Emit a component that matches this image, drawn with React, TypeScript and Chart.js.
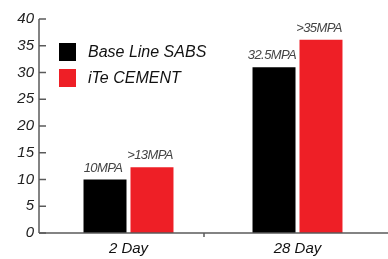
import React, { useEffect, useRef } from "react";
import { Chart, registerables } from "chart.js";

Chart.register(...registerables);

const categories = ["2 Day", "28 Day"];
const seriesNames = ["Base Line SABS", "iTe CEMENT"];
const baseLine = [10, 31];
const iteCement = [12.3, 36.1];
const baseLabels = ["10MPA", "32.5MPA"];
const iteLabels = [">13MPA", ">35MPA"];
const colors = ["#000000", "#ee1f26"];
const yTicks = [0, 5, 10, 15, 20, 25, 30, 35, 40];

const AXIS_COLOR = "#5a5a5a";

const customPlugin = {
  id: "custom",
  afterDraw(chart: any) {
    const { ctx, chartArea, scales } = chart;
    const y = scales.y;
    const x = scales.x;
    const axisX = chartArea.left - 5;
    ctx.save();
    ctx.strokeStyle = AXIS_COLOR;
    ctx.lineWidth = 1.5;
    // y axis
    ctx.beginPath();
    ctx.moveTo(axisX, y.getPixelForValue(40));
    ctx.lineTo(axisX, y.getPixelForValue(0));
    ctx.stroke();
    // y ticks (inward)
    yTicks.forEach((v) => {
      const py = y.getPixelForValue(v);
      ctx.beginPath();
      ctx.moveTo(axisX, py);
      ctx.lineTo(axisX + 7, py);
      ctx.stroke();
    });
    // x axis
    const by = y.getPixelForValue(0);
    ctx.beginPath();
    ctx.moveTo(axisX, by);
    ctx.lineTo(chart.width, by);
    ctx.stroke();
    // x middle tick
    const mid = (x.getPixelForValue(0) + x.getPixelForValue(1)) / 2 - 9;
    ctx.beginPath();
    ctx.moveTo(mid, by);
    ctx.lineTo(mid, by + 4);
    ctx.stroke();

    // value labels
    ctx.font = "italic 13px 'Liberation Sans', Arial, sans-serif";
    ctx.fillStyle = "#444444";
    ctx.textAlign = "center";
    ctx.textBaseline = "alphabetic";
    try { (ctx as any).letterSpacing = "-0.6px"; } catch (e) {}
    const labelSets = [baseLabels, iteLabels];
    chart.data.datasets.forEach((ds: any, di: number) => {
      const meta = chart.getDatasetMeta(di);
      meta.data.forEach((bar: any, i: number) => {
        ctx.fillText(labelSets[di][i], bar.x - 2, bar.y - 8);
      });
    });
    try { (ctx as any).letterSpacing = "0px"; } catch (e) {}

    // legend
    ctx.textAlign = "left";
    ctx.textBaseline = "middle";
    ctx.font = "italic 16px 'Liberation Sans', Arial, sans-serif";
    chart.data.datasets.forEach((ds: any, di: number) => {
      const top = 43 + di * 26;
      ctx.fillStyle = ds.backgroundColor;
      ctx.fillRect(59, top, 17, 18);
      ctx.fillStyle = "#111111";
      ctx.fillText(ds.label, 88, top + 10);
    });
    ctx.restore();
  },
};

export default function App() {
  const canvasRef = useRef<HTMLCanvasElement | null>(null);

  useEffect(() => {
    if (!canvasRef.current) return;
    const chart = new Chart(canvasRef.current, {
      type: "bar",
      data: {
        labels: categories,
        datasets: [
          { label: seriesNames[0], data: baseLine, backgroundColor: colors[0] },
          { label: seriesNames[1], data: iteCement, backgroundColor: colors[1] },
        ],
      },
      options: {
        animation: false,
        responsive: false,
        maintainAspectRatio: false,
        devicePixelRatio: 1,
        layout: { padding: { top: 18, right: 6, left: 0, bottom: 0 } },
        categoryPercentage: 0.556,
        barPercentage: 0.915,
        plugins: {
          legend: { display: false },
          tooltip: { enabled: false },
        },
        scales: {
          x: {
            grid: { display: false, drawTicks: false },
            border: { display: false },
            ticks: {
              padding: 7,
              color: "#111111",
              font: { family: "'Liberation Sans', Arial, sans-serif", size: 15, style: "italic" },
            },
            afterFit: (scale: any) => {
              scale.height = 26;
            },
          },
          y: {
            min: 0,
            max: 40,
            grid: { display: false, drawTicks: false },
            border: { display: false },
            ticks: {
              stepSize: 5,
              padding: 10,
              color: "#222222",
              font: { family: "'Liberation Sans', Arial, sans-serif", size: 15, style: "italic" },
            },
            afterFit: (scale: any) => {
              scale.width = 44;
            },
          },
        },
      } as any,
      plugins: [customPlugin],
    });
    return () => chart.destroy();
  }, []);

  return (
    <div style={{ position: "fixed", left: 0, top: 0, width: 388, height: 259, background: "#fff" }}>
      <canvas ref={canvasRef} width={388} height={259} style={{ width: 388, height: 259 }} />
    </div>
  );
}
